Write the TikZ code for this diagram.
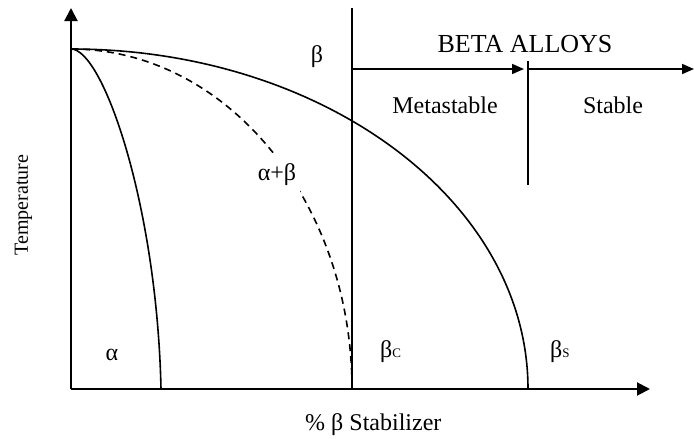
\documentclass[tikz,border=0pt]{standalone}
\usepackage{fontspec}
\setmainfont{Liberation Serif}
\usetikzlibrary{arrows.meta}
\begin{document}
\begin{tikzpicture}[x=1pt,y=-1pt,
  axis/.style={line width=2pt,-{Triangle[length=13pt,width=13pt]}},
  phasearrow/.style={line width=1.7pt,-{Triangle[length=12pt,width=10pt]}},
  divider/.style={line width=1.8pt},
  curve/.style={line width=1.6pt},
  dashcurve/.style={line width=1.6pt,dash pattern=on 7pt off 5pt},
  lbl/.style={font=\fontsize{24}{28}\selectfont, inner sep=0pt, anchor=base},
  sublbl/.style={font=\fontsize{24}{28}\selectfont, inner sep=0pt, anchor=base west}]
\useasboundingbox (0,0) rectangle (694,439);
% axes
\coordinate (O) at (71,389);
\coordinate (ytop) at (71,8);
\coordinate (xend) at (650,389);
\draw[axis] (O) -- (ytop);
\draw[axis] (O) -- (xend);
% beta-c divider
\coordinate (vb) at (352,389);
\coordinate (vt) at (352,8);
\draw[divider] (vb) -- (vt);
% beta alloys arrows
\coordinate (a1s) at (352,69);
\coordinate (a1e) at (524,69);
\coordinate (a2s) at (528,69);
\coordinate (a2e) at (694,69);
\coordinate (d2t) at (528,61);
\coordinate (d2b) at (528,185);
\draw[phasearrow] (a1s) -- (a1e);
\draw[phasearrow] (a2s) -- (a2e);
\draw[divider] (d2t) -- (d2b);
% curves
\coordinate (top) at (71,49);
\coordinate (aend) at (161,389);
\draw[curve] (top) arc[start angle=-90,end angle=0,x radius=457,y radius=340];
\draw[dashcurve] (top) arc[start angle=-90,end angle=0,x radius=281,y radius=340];
\draw[curve] (top) .. controls (103,49) and (157,205) .. (aend);
% labels
\node[lbl] (lbeta) at (317,62) {β};
\node[lbl,font=\fontsize{26}{30}\selectfont] (ltitle) at (525,52) {BETA ALLOYS};
\node[lbl] (lmeta) at (445,113) {Metastable};
\node[lbl] (lstable) at (613,113) {Stable};
\node[lbl,fill=white,inner xsep=4pt,inner ysep=10pt] (lab) at (277,180) {α+β};
\node[lbl] (lalpha) at (112,360) {α};
\node[sublbl] (lbc) at (380,357) {β{\fontsize{13}{13}\selectfont C}};
\node[sublbl] (lbs) at (550,357) {β{\fontsize{13}{13}\selectfont S}};
\node[sublbl] (lx) at (305,430) {\%\ β Stabilizer};
\node[inner sep=0pt,rotate=90,font=\fontsize{20}{24}\selectfont] (ly) at (23.5,205) {Temperature};
\end{tikzpicture}
\end{document}
